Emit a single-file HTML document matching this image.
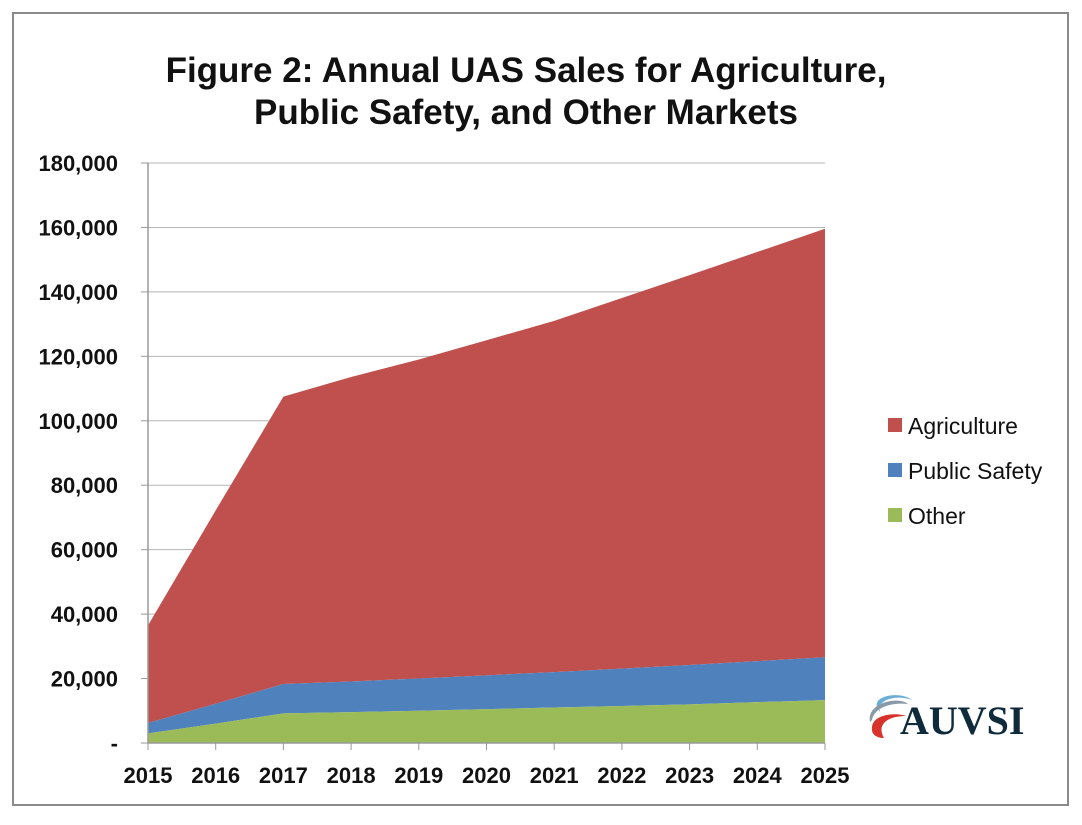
<!DOCTYPE html>
<html><head><meta charset="utf-8"><style>
body{margin:0;background:#fff;width:1082px;height:820px;overflow:hidden;font-family:"Liberation Sans",sans-serif}
</style></head><body>
<svg id="chart" width="1082" height="820" xmlns="http://www.w3.org/2000/svg">
<rect x="13" y="13" width="1055" height="792" fill="#fff" stroke="#8a8a8a" stroke-width="2"/>
<text x="526" y="82" text-anchor="middle" font-size="35" font-weight="bold" fill="#111">Figure 2: Annual UAS Sales for Agriculture,</text>
<text x="526" y="124" text-anchor="middle" font-size="35" font-weight="bold" fill="#111">Public Safety, and Other Markets</text>
<g id="grid"></g><g id="areas"></g><g id="axes"></g>
<g>
<rect x="888" y="418" width="14" height="14" fill="#C0504D"/>
<text x="908" y="434" font-size="23" fill="#111">Agriculture</text>
<rect x="888" y="463" width="14" height="14" fill="#4F81BD"/>
<text x="908" y="479" font-size="23" fill="#111">Public Safety</text>
<rect x="888" y="508" width="14" height="14" fill="#9BBB59"/>
<text x="908" y="524" font-size="23" fill="#111">Other</text>
</g>
<g>
<path d="M880 712 C866 696 900 690 912 700 C896 694 876 700 880 712Z" fill="#6aaed6"/>
<path d="M870 722 C866 702 900 696 908 704 C890 702 874 708 872 720Z" fill="#8a9aa8"/>
<path d="M872 730 C870 714 896 712 906 716 C888 716 876 724 884 738 C876 738 872 734 872 730Z" fill="#d9322a"/>
<text x="900" y="734" font-size="40" font-weight="bold" fill="#0f2a3a" font-family="Liberation Serif,serif">AUVSI</text>
</g>
</svg>
<script>
const years=["2015","2016","2017","2018","2019","2020","2021","2022","2023","2024","2025"];
const other=[3000,6000,9200,9600,10000,10500,11000,11500,12000,12700,13300];
const publicSafety=[3200,6200,9100,9500,10000,10500,11000,11600,12200,12700,13300];
const agriculture=[30300,60000,89200,94500,99000,104000,109000,115000,121000,127000,133000];
const yTicks=[0,20000,40000,60000,80000,100000,120000,140000,160000,180000];
const yTickLabels=["-","20,000","40,000","60,000","80,000","100,000","120,000","140,000","160,000","180,000"];
const NS="http://www.w3.org/2000/svg";
const x0=148,x1=825,yb=743,yt=163,ymax=180000;
const X=i=>x0+(x1-x0)*i/(years.length-1);
const Y=v=>yb-(yb-yt)*v/ymax;
function mk(t,a,p){const e=document.createElementNS(NS,t);for(const k in a)e.setAttribute(k,a[k]);p.appendChild(e);return e;}
const grid=document.getElementById('grid'),areas=document.getElementById('areas'),axes=document.getElementById('axes');
yTicks.forEach((v,i)=>{
 if(i>0){const g=mk('line',{x1:x0,x2:x1,y1:Y(v),y2:Y(v),stroke:'#b5b5b5','stroke-width':1},grid);
 
 }
 const tk=mk('line',{x1:x0-7,x2:x0,y1:Y(v),y2:Y(v),stroke:'#999'},axes);
 
 
 const t=mk('text',{x:118,y:Y(v)+8,'text-anchor':'end','font-size':22,'font-weight':'bold',fill:'#111'},axes);
 t.textContent=yTickLabels[i];
 
 
});
const c1=other, c2=other.map((v,i)=>v+publicSafety[i]), c3=c2.map((v,i)=>v+agriculture[i]);
const zero=years.map(()=>0);
function area(top,bot,color,name){
 let d='M'+years.map((_,i)=>X(i)+','+Y(top[i])).join('L');
 for(let i=years.length-1;i>=0;i--)d+='L'+X(i)+','+Y(bot[i]);
 const p=mk('path',{d:d+'Z',fill:color},areas);
 
 
}
area(c3,c2,'#C0504D','area-agriculture');
area(c2,c1,'#4F81BD','area-public-safety');
area(c1,zero,'#9BBB59','area-other');
const ya=mk('line',{x1:x0,x2:x0,y1:yt,y2:yb,stroke:'#999','stroke-width':1.5},axes);


const xa=mk('line',{x1:x0,x2:x1,y1:yb,y2:yb,stroke:'#999','stroke-width':1.5},axes);


years.forEach((y,i)=>{
 const tk=mk('line',{x1:X(i),x2:X(i),y1:yb,y2:yb+7,stroke:'#999'},axes);
 
 
 const t=mk('text',{x:X(i),y:783,'text-anchor':'middle','font-size':22,'font-weight':'bold',fill:'#111'},axes);
 t.textContent=y;
 
 
});
</script>
</body></html>
